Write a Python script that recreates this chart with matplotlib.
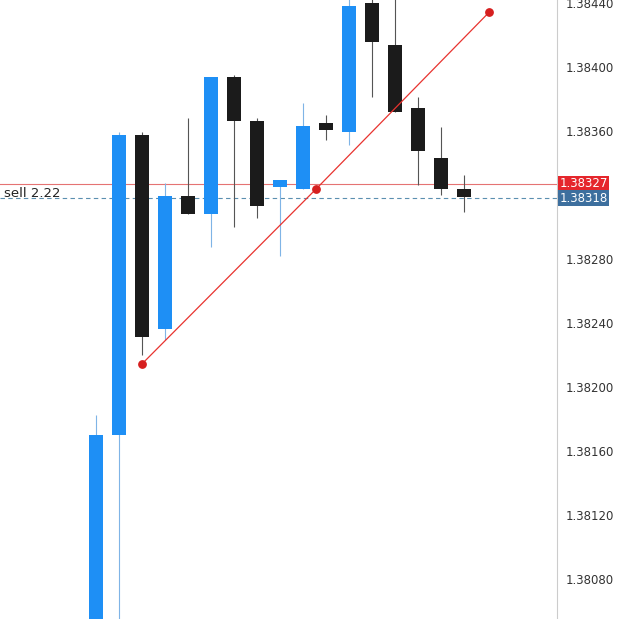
import matplotlib
matplotlib.use("Agg")
import matplotlib.pyplot as plt

opens  = [1.38000, 1.38170, 1.383575, 1.382363, 1.383194, 1.383081, 1.383938, 1.383663, 1.383250, 1.383238, 1.383650, 1.383594, 1.384400, 1.384137, 1.383744, 1.383431, 1.383238]
closes = [1.38170, 1.383575, 1.382313, 1.383194, 1.383081, 1.383938, 1.383663, 1.383131, 1.383294, 1.383631, 1.383606, 1.384381, 1.384156, 1.383719, 1.383475, 1.383238, 1.383188]
highs  = [1.381825, 1.383594, 1.383594, 1.383275, 1.383681, 1.383938, 1.383950, 1.383681, 1.383294, 1.383775, 1.383700, 1.384500, 1.384500, 1.384500, 1.383813, 1.383625, 1.383325]
lows   = [1.38000, 1.38050, 1.382200, 1.382294, 1.383081, 1.382875, 1.383000, 1.383056, 1.382819, 1.383238, 1.383544, 1.383513, 1.383813, 1.383719, 1.383263, 1.383200, 1.383094]
trend_x = [2.0, 9.57, 17.1]
trend_y = [1.382144, 1.383238, 1.384344]
bid, ask = 1.38327, 1.38318
yticks = [1.38080, 1.38120, 1.38160, 1.38200, 1.38240, 1.38280, 1.38360, 1.38400, 1.38440]

BLUE = "#1E8FF5"; BLACK = "#1b1b1b"
fig = plt.figure(figsize=(6.19, 6.19), dpi=100)
ax = fig.add_axes([0, 0, 557/619, 1])
for i, (o, c, h, l) in enumerate(zip(opens, closes, highs, lows)):
    up = c >= o
    col = BLUE if up else BLACK
    ax.vlines(i, l, h, color="#7fb4e6" if up else "#555555", lw=0.8, zorder=2)
    ax.bar(i, abs(c - o), bottom=min(o, c), width=0.62, color=col, zorder=3)
ax.plot(trend_x, trend_y, color="#e8332f", lw=0.9, zorder=4)
ax.scatter(trend_x, trend_y, color="#d61f1f", s=28, zorder=5)
ax.axhline(bid, color="#e57373", lw=0.8, zorder=1)
ax.axhline(ask, color="#5b8fb0", lw=0.8, ls=(0, (4, 3)), zorder=1)
ax.text(-4.0, ask + 0.00003, "sell 2.22", fontsize=9.5, va="center", color="#222")
ax.set_xlim(-4.17, 20.04)
ax.set_ylim(1.38055, 1.384419)
ax.set_xticks([])
ax.yaxis.tick_right()
ax.set_yticks(yticks)
ax.set_yticklabels([f"{t:.5f}" for t in yticks], fontsize=8.5, color="#333")
ax.tick_params(axis="y", length=0, pad=6)
for s in ["top", "left", "bottom"]:
    ax.spines[s].set_visible(False)
ax.spines["right"].set_color("#cccccc")
for val, bg in [(bid, "#e5262c"), (ask, "#3d6f9e")]:
    ax.text(1.004, val, f"{val:.5f}", transform=ax.get_yaxis_transform(), fontsize=8.5,
            color="white", va="center", ha="left",
            bbox=dict(boxstyle="square,pad=0.12", fc=bg, ec="none"))
fig.savefig("out.png", dpi=100)
